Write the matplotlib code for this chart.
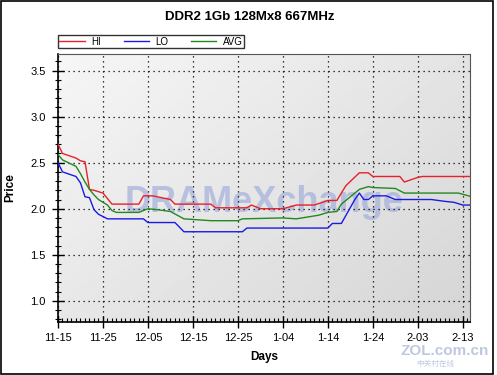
import numpy as np
import matplotlib.pyplot as plt
from matplotlib.patches import Rectangle
from matplotlib.ticker import MultipleLocator

plt.rcParams['font.family'] = ['Liberation Sans', 'Noto Sans CJK SC', 'DejaVu Sans']

# days since 11-15, price in USD
hi_days = [0, 1, 4, 5, 6, 7, 8, 10, 12, 18, 19, 21, 23, 25, 26, 34, 35, 42, 43, 44, 45,
           50, 53, 57, 60, 62, 64, 67, 69, 70, 76, 77, 80, 81, 92]
hi_vals = [2.70, 2.60, 2.55, 2.52, 2.51, 2.21, 2.20, 2.17, 2.05, 2.05, 2.14, 2.14, 2.12, 2.10, 2.05,
           2.05, 2.01, 2.01, 2.04, 2.02, 2.00, 2.00, 2.04, 2.04, 2.09, 2.09, 2.25, 2.39, 2.39, 2.35,
           2.35, 2.29, 2.34, 2.35, 2.35]

lo_days = [0, 1, 4, 5, 6, 7, 8, 9, 11, 19, 20, 26, 28, 41, 42, 60, 61, 63, 66, 67, 68, 69, 70,
           73, 75, 83, 86, 88, 90, 92]
lo_vals = [2.50, 2.40, 2.35, 2.28, 2.13, 2.12, 1.99, 1.94, 1.89, 1.89, 1.85, 1.85, 1.75, 1.75, 1.79,
           1.79, 1.84, 1.84, 2.10, 2.17, 2.10, 2.10, 2.14, 2.14, 2.10, 2.10, 2.08, 2.07, 2.04, 2.04]

avg_days = [0, 1, 4, 5, 6, 7, 8, 9, 11, 12, 13, 18, 20, 22, 25, 28, 34, 40, 41, 50, 53, 58, 60,
            62, 63, 65, 67, 69, 70, 75, 77, 89, 92]
avg_vals = [2.59, 2.53, 2.46, 2.38, 2.29, 2.21, 2.15, 2.10, 2.04, 1.98, 1.96, 1.96, 2.00, 1.99, 1.97,
            1.89, 1.87, 1.87, 1.89, 1.90, 1.89, 1.93, 1.96, 1.97, 2.05, 2.13, 2.21, 2.24, 2.23, 2.22,
            2.17, 2.17, 2.13]

tick_days = [0, 10, 20, 30, 40, 50, 60, 70, 80, 90]
tick_labels = ['11-15', '11-25', '12-05', '12-15', '12-25', '1-04', '1-14', '1-24', '2-03', '2-13']

fig = plt.figure(figsize=(4.97, 3.75), dpi=100)
ax = fig.add_axes([58 / 497, 53 / 375, 412 / 497, 268 / 375])

xmin, xmax, ymin, ymax = 0, 91.6, 0.77, 3.68

# grey gradient background, light top-left to darker bottom-right
gx, gy = np.meshgrid(np.linspace(0, 1, 200), np.linspace(0, 1, 200))
shade = 0.965 - 0.13 * (0.55 * gx + 0.45 * gy)
ax.imshow(shade, extent=[xmin, xmax, ymin, ymax], origin='upper', aspect='auto',
          cmap='gray', vmin=0, vmax=1, zorder=0)

# watermark
ax.text(0.5, 0.445, 'DRAMeXchange', transform=ax.transAxes, ha='center', va='center',
        fontsize=26, fontweight='bold', color='#a4afdc', alpha=0.7, zorder=1)

ax.plot(hi_days, hi_vals, color='#e8202a', lw=1.0, label='HI', zorder=3)
ax.plot(lo_days, lo_vals, color='#1a1ae6', lw=1.0, label='LO', zorder=3)
ax.plot(avg_days, avg_vals, color='#1f8a1f', lw=1.0, label='AVG', zorder=3)

ax.set_xlim(xmin, xmax)
ax.set_ylim(ymin, ymax)
ax.set_xticks(tick_days)
ax.set_xticklabels(tick_labels)
ax.xaxis.set_minor_locator(MultipleLocator(1))
ax.set_yticks([1.0, 1.5, 2.0, 2.5, 3.0, 3.5])
ax.set_yticklabels(['1.0', '1.5', '2.0', '2.5', '3.0', '3.5'])
ax.yaxis.set_minor_locator(MultipleLocator(0.1))

ax.tick_params(axis='both', which='major', direction='inout', length=8, width=1,
               labelsize=8, color='black')
ax.tick_params(axis='x', which='major', pad=4)
ax.tick_params(axis='y', which='major', pad=5)
ax.tick_params(axis='x', which='minor', direction='in', length=3, width=0.8)
ax.tick_params(axis='y', which='minor', direction='inout', length=5, width=0.8)

ax.grid(True, which='major', color='black', linestyle=(0, (1, 3)), linewidth=0.9)
ax.set_axisbelow(False)

for side in ['left', 'bottom']:
    ax.spines[side].set_linewidth(1.2)
for side in ['top', 'right']:
    ax.spines[side].set_color('#555555')
    ax.spines[side].set_linewidth(0.8)

ax.set_xlabel('Days', fontsize=8.5, fontweight='bold', labelpad=6)
ax.set_ylabel('Price', fontsize=8.5, fontweight='bold', labelpad=10)

fig.text(250 / 497, 1 - 17 / 375, 'DDR2 1Gb 128Mx8 667MHz', ha='center', va='center',
         fontsize=9.5, fontweight='bold')

leg = fig.legend(loc='lower left', bbox_to_anchor=(58 / 497, 1 - 48 / 375), ncol=3,
                 fontsize=7, frameon=True, fancybox=False, borderaxespad=0,
                 handlelength=2.6, handletextpad=0.7, columnspacing=2.3,
                 borderpad=0.15)
leg.get_frame().set_edgecolor('black')
leg.get_frame().set_linewidth(1.0)

# zol logo watermark bottom right
fig.text(445 / 497, 1 - 351 / 375, 'ZOL.com.cn', ha='center', va='center', fontsize=11,
         fontweight='bold', color='#b8c2dc', alpha=0.9)
fig.text(435 / 497, 1 - 364 / 375, '中关村在线', ha='center', va='center', fontsize=5.5,
         color='#b8c2dc', alpha=0.9)

# outer frame
fig.patches.append(Rectangle((0.003, 0.003), 0.988, 0.994, transform=fig.transFigure,
                             fill=False, edgecolor='black', linewidth=1.2))

fig.savefig('out.png', dpi=100)
